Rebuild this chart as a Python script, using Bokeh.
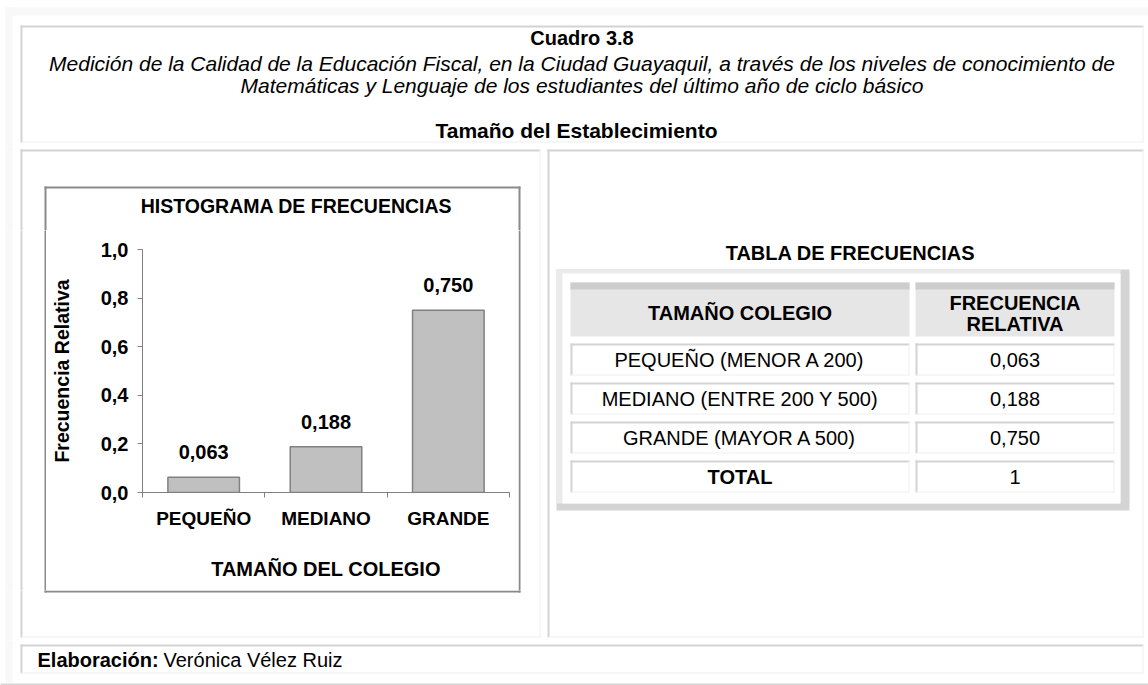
from bokeh.plotting import figure
from bokeh.layouts import column, row
from bokeh.models import (Range1d, FixedTicker, CustomJSTickFormatter,
                          LabelSet, ColumnDataSource)
from bokeh.core.properties import value
from bokeh.embed import file_html
from bokeh.resources import INLINE

# ---------------- data ----------------
categories = ["PEQUEÑO", "MEDIANO", "GRANDE"]
table_rows = ["PEQUEÑO (MENOR A 200)", "MEDIANO (ENTRE 200 Y 500)", "GRANDE (MAYOR A 500)"]
rel_freq = [0.063, 0.188, 0.750]
total_label = "TOTAL"
total_value = "1"
y_ticks = [0.0, 0.2, 0.4, 0.6, 0.8, 1.0]

title_text = "Cuadro 3.8"
subtitle_lines = [
    "Medición de la Calidad de la Educación Fiscal, en la Ciudad Guayaquil, a través de los niveles de conocimiento de",
    "Matemáticas y Lenguaje de los estudiantes del último año de ciclo básico",
]
section_text = "Tamaño del Establecimiento"
chart_title = "HISTOGRAMA DE FRECUENCIAS"
x_title = "TAMAÑO DEL COLEGIO"
y_title = "Frecuencia Relativa"
table_title = "TABLA DE FRECUENCIAS"
table_head_1 = "TAMAÑO COLEGIO"
table_head_2 = ["FRECUENCIA", "RELATIVA"]
credit_bold = "Elaboración:"
credit_text = "Verónica Vélez Ruiz"

# ---------------- style constants ----------------
FONT = "Liberation Sans"
DARK = "#d3d3d3"
LIGHT = "#f0f0f0"
BAND = "#f8f8f8"


def fmt(v, d=3):
    return f"{v:.{d}f}".replace(".", ",")


def no_align(f):
    try:
        f.frame_align = False
    except Exception:
        pass


# ---------------- canvas figures (pixel coordinates, y downwards) ----------------
canvases = []


def canvas(x0, y0, w, h):
    f = figure(width=w, height=h, output_backend="svg", toolbar_location=None,
               x_range=Range1d(x0, x0 + w), y_range=Range1d(y0 + h, y0),
               x_axis_type=None, y_axis_type=None,
               min_border_left=0, min_border_right=0, min_border_top=0, min_border_bottom=0)
    f.outline_line_color = None
    f.background_fill_color = "white"
    f.border_fill_color = "white"
    f.title.visible = False
    no_align(f)
    canvases.append((f, x0, y0, x0 + w, y0 + h))
    return f


def rect(l, t, r, b, fill):
    for f, x0, y0, x1, y1 in canvases:
        if l < x1 and r > x0 and t < y1 and b > y0:
            f.quad(left=l, right=r, top=t, bottom=b, fill_color=fill, line_color=None)


def text(x, y, s, size=20, style="normal", align="center"):
    for f, x0, y0, x1, y1 in canvases:
        if x0 <= x < x1 and y0 <= y < y1:
            f.text(x=[x], y=[y], text=[s], text_align=align, text_baseline="middle",
                   text_font=value(FONT), text_font_size=f"{size}px",
                   text_font_style=style, text_color="black")
            return


def cell(l, t, r, b):
    rect(l, t, r, t + 2, DARK)
    rect(l, t, l + 2, b, DARK)
    rect(l, b - 1, r, b, LIGHT)
    rect(r - 1, t, r, b, LIGHT)


header = canvas(0, 0, 1148, 146)
top_strip = canvas(0, 146, 544, 84)
left_strip = canvas(0, 230, 46, 360)
right_strip = canvas(518, 230, 26, 360)
bottom_strip = canvas(0, 590, 544, 50)
right_panel = canvas(544, 146, 604, 494)
footer = canvas(0, 640, 1148, 45)

# ---------------- page background ----------------
rect(5, 7, 1148, 15, BAND)
rect(5, 7, 12, 682, BAND)
rect(0, 683, 1148, 685, "#d6d6d6")

# header cell
cell(20, 25, 1143, 142)
text(581.5, 37, title_text, 20, "bold")
text(581.5, 63, subtitle_lines[0], 21, "italic")
text(581.5, 85, subtitle_lines[1], 21, "italic")
text(576, 130, section_text, 21, "bold")

# panels + footer
cell(20, 149, 540, 637)
cell(547, 149, 1143, 637)
cell(20, 644, 1143, 673)
text(37, 659, credit_bold, 20, "bold", align="left")
text(163, 659, credit_text, 20, "normal", align="left")

# chart box
BOX = "#8a8a8a"
rect(44, 186, 520, 188, BOX)
rect(44, 590, 520, 592, BOX)
rect(44, 186, 46, 592, BOX)
rect(518, 186, 520, 592, BOX)
text(296, 205, chart_title, 19.5, "bold")

# ---------------- table ----------------
rect(556, 269, 1129, 510, "#d4d4d4")
rect(556, 269, 1120, 503, "#ebebeb")
rect(562, 273, 1120, 503, "white")
text(850, 252, table_title, 20, "bold")

c1 = (570, 909)
c2 = (915, 1114)
for (l, r) in (c1, c2):
    rect(l, 282, r, 336, "#e6e6e6")
    rect(l, 282, r, 289, "#cdcdcd")
text((c1[0] + c1[1]) / 2, 312, table_head_1, 20, "bold")
text((c2[0] + c2[1]) / 2, 302, table_head_2[0], 20, "bold")
text((c2[0] + c2[1]) / 2, 323, table_head_2[1], 20, "bold")

row_top0, row_pitch, row_h = 343, 39, 32
rows = list(zip(table_rows, [fmt(v) for v in rel_freq])) + [(total_label, total_value)]
for i, (lab, val) in enumerate(rows):
    t = row_top0 + i * row_pitch
    cell(c1[0], t, c1[1], t + row_h)
    cell(c2[0], t, c2[1], t + row_h)
    style = "bold" if lab == total_label else "normal"
    text((c1[0] + c1[1]) / 2, t + row_h / 2 + 0.5, lab, 20, style)
    text((c2[0] + c2[1]) / 2, t + row_h / 2 + 0.5, val, 20, "normal")

# ---------------- bar chart (page x 46-518, y 230-590) ----------------
p = figure(width=472, height=360, output_backend="svg", toolbar_location=None,
           x_range=Range1d(0, len(categories)), y_range=Range1d(0, 1),
           min_border_left=96, min_border_right=9, min_border_top=19, min_border_bottom=98)
no_align(p)
p.title.visible = False
p.outline_line_color = None
p.background_fill_color = "white"
p.border_fill_color = "white"
p.xgrid.visible = False
p.ygrid.visible = False

xs = [i + 0.5 for i in range(len(categories))]
src = ColumnDataSource(dict(x=xs, top=rel_freq, label=[fmt(v) for v in rel_freq]))
p.vbar(x="x", top="top", bottom=0, width=0.585, source=src,
       fill_color="#c0c0c0", line_color="#808080", line_width=1.5)
p.add_layout(LabelSet(x="x", y="top", text="label", source=src, y_offset=25,
                      text_align="center", text_baseline="middle",
                      text_font=value(FONT), text_font_size="20px",
                      text_font_style="bold", text_color="black"))

xa = p.xaxis[0]
xa.ticker = FixedTicker(ticks=xs, minor_ticks=list(range(len(categories) + 1)))
xa.formatter = CustomJSTickFormatter(args=dict(cats=categories),
                                     code="return cats[Math.floor(tick)];")
xa.major_tick_line_color = None
xa.major_tick_out = 0
xa.major_tick_in = 0
xa.minor_tick_line_color = "#808080"
xa.minor_tick_out = 5
xa.minor_tick_in = 0
xa.axis_line_color = "#808080"
xa.major_label_text_font = FONT
xa.major_label_text_font_size = "19px"
xa.major_label_text_font_style = "bold"
xa.major_label_text_color = "black"
xa.major_label_standoff = 10
xa.axis_label = x_title
xa.axis_label_text_font = FONT
xa.axis_label_text_font_size = "20px"
xa.axis_label_text_font_style = "bold"
xa.axis_label_text_color = "black"
xa.axis_label_standoff = 26

ya = p.yaxis[0]
ya.ticker = FixedTicker(ticks=y_ticks)
ya.formatter = CustomJSTickFormatter(code="return tick.toFixed(1).replace('.', ',');")
ya.major_tick_out = 5
ya.major_tick_in = 0
ya.minor_tick_line_color = None
ya.major_tick_line_color = "#808080"
ya.axis_line_color = "#808080"
ya.major_label_text_font = FONT
ya.major_label_text_font_size = "20px"
ya.major_label_text_font_style = "bold"
ya.major_label_text_color = "black"
ya.major_label_standoff = 9
ya.axis_label = y_title
ya.axis_label_text_font = FONT
ya.axis_label_text_font_size = "19.5px"
ya.axis_label_text_font_style = "bold"
ya.axis_label_text_color = "black"
ya.axis_label_standoff = 25

layout = column(
    header,
    row(
        column(top_strip,
               row(left_strip, column(p, spacing=0), right_strip, spacing=0),
               bottom_strip, spacing=0),
        right_panel,
        spacing=0,
    ),
    footer,
    spacing=0,
)

open("out.html", "w").write(file_html(layout, INLINE))
